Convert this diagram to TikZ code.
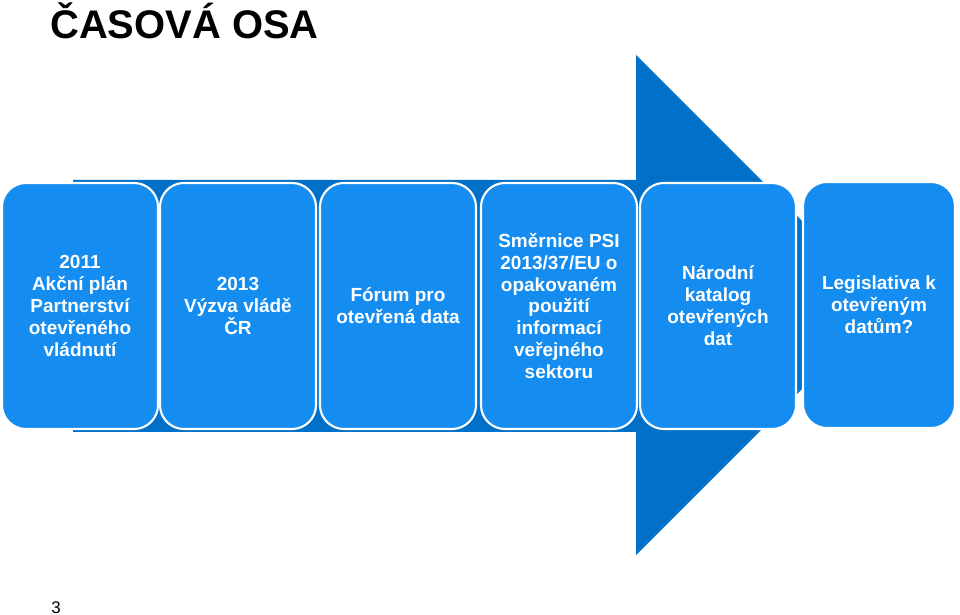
\documentclass[tikz,border=0pt]{standalone}
\usepackage{fontspec}
\setmainfont{Liberation Sans}
\usepackage{tikz}
\usetikzlibrary{positioning}

\definecolor{sipkamodra}{RGB}{0,112,200}
\definecolor{etapamodra}{RGB}{20,140,240}

\begin{document}
\begin{tikzpicture}[
                x=0.025cm, y=-0.025cm,
                etapa/.style={draw=white, line width=1.5pt, fill=etapamodra, rounded corners=0.6cm,
                              align=center, text=white, font=\fontsize{13.5}{15.6}\selectfont\bfseries,
                              minimum width=3.9cm, minimum height=6.15cm, inner sep=2pt}
            ]
            \useasboundingbox (0,0) rectangle (960,615);

            % Nadpis
            \node[anchor=base west, inner sep=0, font=\fontsize{28.4}{32}\selectfont\bfseries] (nadpis) at (50,39) {ČASOVÁ OSA};

            % Šipka v pozadí
            \fill[sipkamodra] (73,180) -- (636,180) -- (636,55) -- (886,305)
                -- (636,555) -- (636,432) -- (73,432) -- cycle;

            % Etapy na časové ose
            \node[etapa] (rok2011) at (80,306) {2011\\Akční plán\\Partnerství\\otevřeného\\vládnutí};
            \node[etapa] (rok2013) at (238,306) {2013\\Výzva vládě\\ČR};
            \node[etapa] (forum) at (398,306) {Fórum pro\\otevřená data};
            \node[etapa] (smernice) at (559,306) {Směrnice PSI\\2013/37/EU o\\opakovaném\\použití\\informací\\veřejného\\sektoru};
            \node[etapa] (katalog) at (718,306) {Národní\\katalog\\otevřených\\dat};
            \node[etapa, minimum width=3.8cm] (legislativa) at (879,305) {Legislativa k\\otevřeným\\datům?};

            % Číslo strany
            \node[anchor=base west, inner sep=0, font=\fontsize{12}{14}\selectfont] (strana) at (51,613) {3};
        \end{tikzpicture}
\end{document}
